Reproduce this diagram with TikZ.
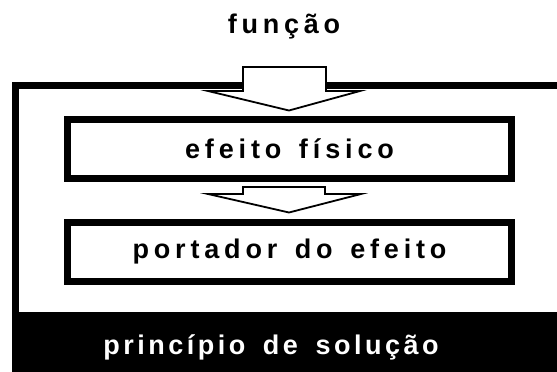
\documentclass[tikz,border=0pt]{standalone}
\usepackage{fontspec}
\setmainfont{Liberation Sans}
\newcommand{\wsp}{\hspace{0.65em}}
\begin{document}
\begin{tikzpicture}[x=1pt,y=-1pt,
  box/.style={draw=black,line width=7pt,minimum width=444pt,inner sep=0pt},
  boxtext/.style={font=\fontsize{27}{27}\selectfont\bfseries\addfontfeatures{LetterSpace=#1}},
  blockarrow/.style={draw=black,fill=white,line width=1.8pt,line join=miter},
  frame/.style={draw=black,line width=7.3pt}]
\useasboundingbox (0,0) rectangle (557,372);
\begin{scope}
\clip (0,0) rectangle (557,372);
% outer frame (open to the right, beyond the picture)
\draw[frame] (600,85.5) -- (15.4,85.5) -- (15.4,380);
% black band
\fill[black] (11.7,312) rectangle (600,380);
\end{scope}
% boxes
\node[box,boxtext=18.1,minimum height=59.5pt] (eff) at (289.5,149) {efeito\wsp físico};
\node[box,boxtext=17.9,minimum height=59pt] (port) at (289.5,252) {portador\wsp do\wsp efeito};
% block arrows
\draw[blockarrow] (243,67) -- (326,67) -- (326,91) -- (360,91) -- (289,110.5)
  -- (208,91) -- (243,91) -- cycle;
\draw[blockarrow] (243,187) -- (325,187) -- (325,194) -- (361,194) -- (289,212.5)
  -- (208,194) -- (243,194) -- cycle;
% texts
\node[anchor=base,inner sep=0pt,boxtext=17.7] (func) at (284,34) {função};
\node[anchor=base,inner sep=0pt,text=white,boxtext=13] (prin) at (271,354.5)
  {princípio\wsp de\wsp solução};
\end{tikzpicture}
\end{document}
